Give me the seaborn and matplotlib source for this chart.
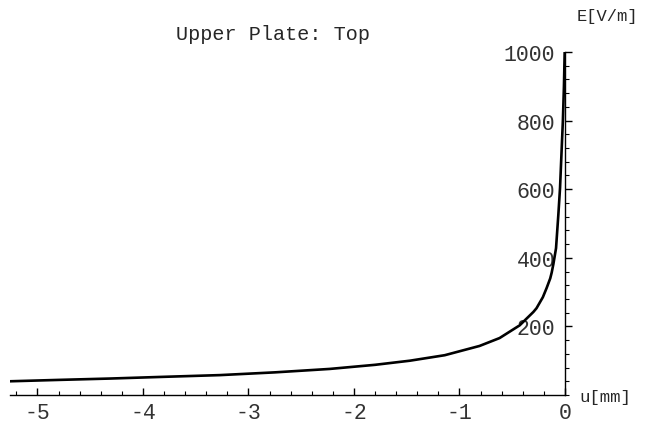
import pandas as pd
import seaborn as sns
import matplotlib.pyplot as plt
from matplotlib.ticker import MultipleLocator

# values
u_mm = [-5.26, -4.8, -4.31, -3.8, -3.27, -2.75, -2.23, -1.80, -1.47, -1.14,
        -0.81, -0.62, -0.43, -0.30, -0.27, -0.21, -0.174, -0.14, -0.126,
        -0.11, -0.085, -0.063, -0.047, -0.031, -0.02, -0.01, -0.003]
e_vm = [40, 44, 48, 53, 58, 66, 76, 88, 100, 116,
        143, 166, 203, 242, 253, 285, 312, 340, 357,
        382, 428, 526, 604, 721, 800, 900, 1000]
x_ticks = [-5, -4, -3, -2, -1, 0]
y_ticks = [200, 400, 600, 800, 1000]

data = pd.DataFrame({'u': u_mm, 'E': e_vm})

sns.set_style('white')
plt.rcParams['font.family'] = ['Liberation Mono', 'DejaVu Sans Mono']
plt.rcParams['axes.unicode_minus'] = False

fig = plt.figure(figsize=(6.49, 4.27), dpi=100)
ax = fig.add_axes([10 / 649, 31 / 427, 555 / 649, 343 / 427])
sns.lineplot(data, x='u', y='E', color='black', linewidth=1.9, ax=ax)

ax.set_xlim(-5.26, 0)
ax.set_ylim(0, 1000)
ax.spines['top'].set_visible(False)
ax.spines['right'].set_visible(False)
ax.spines['left'].set_position(('data', 0))
for s in ['left', 'bottom']:
    ax.spines[s].set_linewidth(1.0)
    ax.spines[s].set_color('black')

ax.set_xticks(x_ticks)
ax.set_xticklabels([str(t) for t in x_ticks])
ax.set_yticks(y_ticks)
ax.set_yticklabels([str(t) for t in y_ticks])
ax.xaxis.set_minor_locator(MultipleLocator(0.2))
ax.yaxis.set_minor_locator(MultipleLocator(40))
ax.tick_params(which='both', bottom=True, left=True, colors='black')
ax.tick_params(which='major', direction='in', length=5, width=1,
               labelsize=15.5, labelcolor='#333333', pad=5)
ax.tick_params(which='minor', direction='in', length=3, width=0.8)
ax.tick_params(axis='y', which='major', pad=7)

ax.set_xlabel('')
ax.set_ylabel('')
fig.text(273 / 649, 1 - 35 / 427, 'Upper Plate: Top', ha='center', va='center', fontsize=14.5)
fig.text(607 / 649, 1 - 17 / 427, 'E[V/m]', ha='center', va='center', fontsize=12.3)
fig.text(605 / 649, 1 - 398 / 427, 'u[mm]', ha='center', va='center', fontsize=12.5)

fig.savefig('out.png', dpi=100)
